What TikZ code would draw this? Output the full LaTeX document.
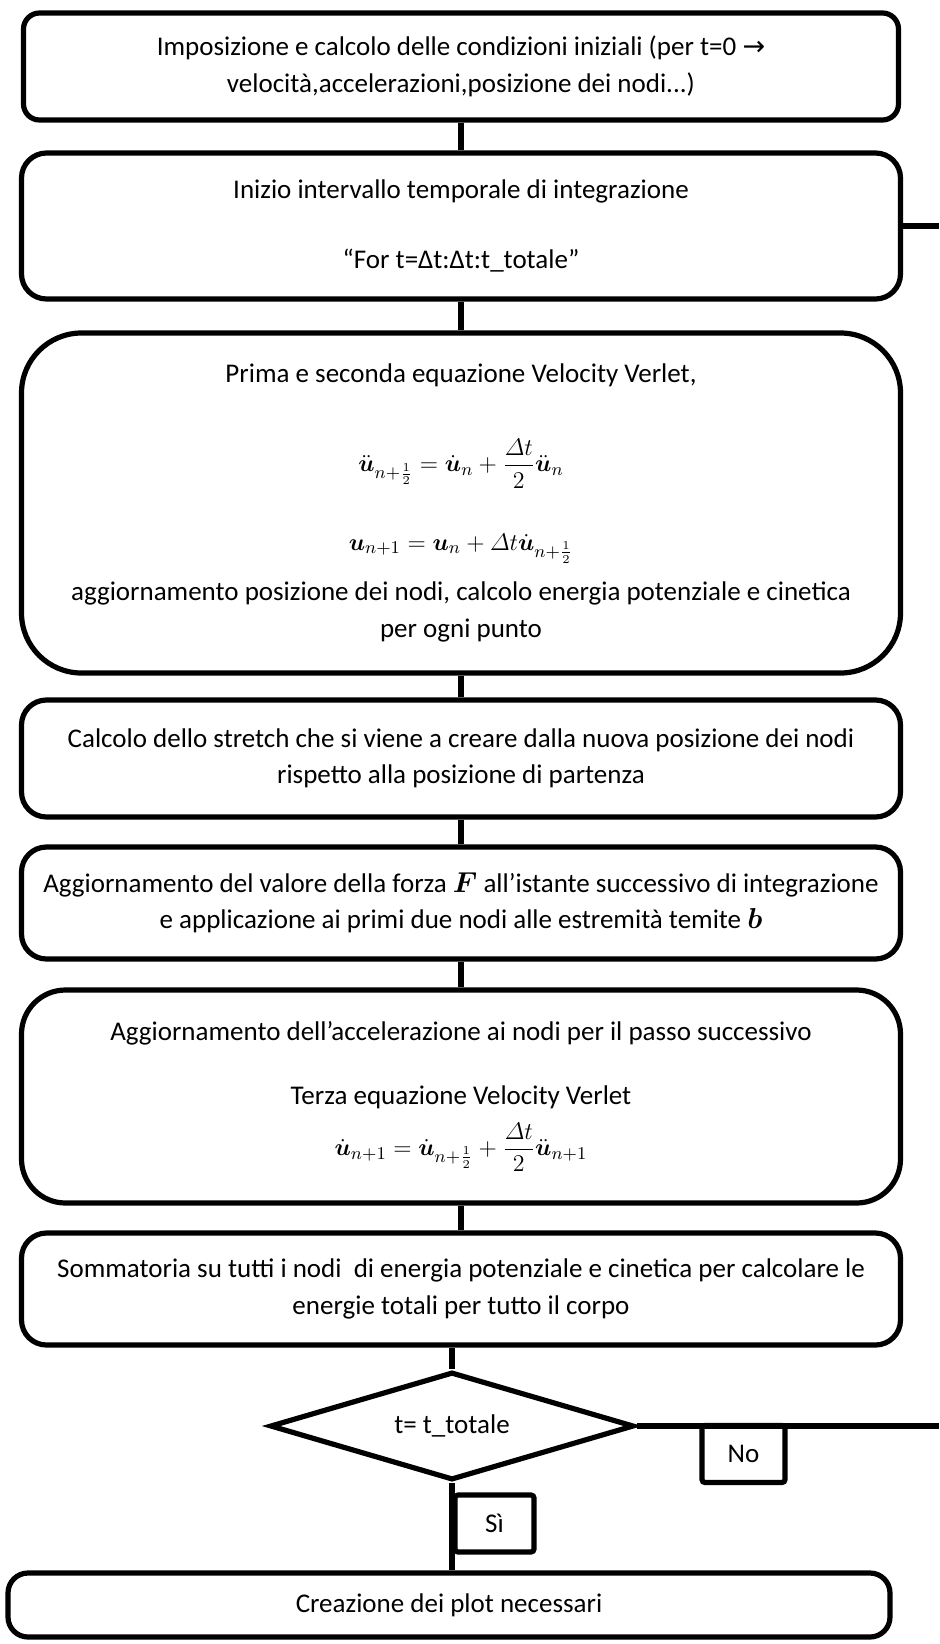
\documentclass[tikz,border=0pt]{standalone}
\usepackage{amsmath}
\usepackage{fontspec}
\setmainfont{Carlito}
\newfontfamily\arrowfont{DejaVu Sans}
\usetikzlibrary{shapes.geometric}
\newcommand{\eqsize}{\fontsize{12.5}{15}\selectfont}
\tikzset{box/.style={draw, line width=2.6pt, rounded corners=12.5pt, align=center,
    inner sep=0pt, minimum width=439.5pt, font=\fontsize{13.5}{18.2}\selectfont}}
\tikzset{tag/.style={draw, line width=2.6pt, rounded corners=1.5pt, inner sep=0pt,
    minimum height=28.5pt, font=\fontsize{13.5}{16}\selectfont}}
\tikzset{link/.style={line width=2.6pt}}

\begin{document}
\begin{tikzpicture}[x=0.5pt,y=-0.5pt]
	\useasboundingbox (0,0) rectangle (939,1644);
	% blocchi del ciclo
	\node[box, minimum width=437.5pt, minimum height=53.5pt, rounded corners=8pt] (init) at (461,66.5)
		{Imposizione e calcolo delle condizioni iniziali (per t=0 {\arrowfont →}\\velocità,accelerazioni,posizione dei nodi...)};
	\node[box, minimum height=73pt] (start) at (461,226)
		{Inizio intervallo temporale di integrazione\\[17pt]“For t=Δt:Δt:t\_totale”};
	\node[box, minimum height=170pt, rounded corners=30pt] (verlet) at (461,503)
		{Prima e seconda equazione Velocity Verlet,\\[25pt]
		{\eqsize$\displaystyle \ddot{\boldsymbol{u}}_{n+\frac{1}{2}} = \dot{\boldsymbol{u}}_n + \frac{\varDelta t}{2}\ddot{\boldsymbol{u}}_n$}\\[21pt]
		{\eqsize$\displaystyle \boldsymbol{u}_{n+1} = \boldsymbol{u}_n + \varDelta t\dot{\boldsymbol{u}}_{n+\frac{1}{2}}$}\\[7pt]
		aggiornamento posizione dei nodi, calcolo energia potenziale e cinetica\\per ogni punto};
	\node[box, minimum height=58.5pt] (stretch) at (461,758.5)
		{Calcolo dello stretch che si viene a creare dalla nuova posizione dei nodi\\rispetto alla posizione di partenza};
	\node[box, minimum height=56pt] (force) at (461,903)
		{Aggiornamento del valore della forza $\boldsymbol{F}$ all’istante successivo di integrazione\\e applicazione ai primi due nodi alle estremità temite $\boldsymbol{b}$};
	\node[box, minimum height=106.5pt, rounded corners=22pt] (accel) at (461,1096.5)
		{Aggiornamento dell’accelerazione ai nodi per il passo successivo\\[14pt]Terza equazione Velocity Verlet\\[6pt]
		{\eqsize$\displaystyle \dot{\boldsymbol{u}}_{n+1} = \dot{\boldsymbol{u}}_{n+\frac{1}{2}} + \frac{\varDelta t}{2}\ddot{\boldsymbol{u}}_{n+1}$}};
	\node[box, minimum height=56pt] (energy) at (461,1289)
		{Sommatoria su tutti i nodi\ \ di energia potenziale e cinetica per calcolare le\\energie totali per tutto il corpo};
	\node[diamond, draw, line width=2.6pt, aspect=3.37, minimum width=182pt, minimum height=54pt,
		inner sep=0pt, font=\fontsize{13.5}{16}\selectfont] (check) at (452,1426) {t= t\_totale};
	\node[box, minimum width=441pt, minimum height=32pt, rounded corners=10pt] (plots) at (449,1605)
		{Creazione dei plot necessari};
	% collegamenti
	\draw[link] (init.south) -- (start.north);
	\draw[link] (start.south) -- (verlet.north);
	\draw[link] (verlet.south) -- (stretch.north);
	\draw[link] (stretch.south) -- (force.north);
	\draw[link] (force.south) -- (accel.north);
	\draw[link] (accel.south) -- (energy.north);
	\draw[link] (check.north) -- (check.north |- energy.south);
	\draw[link] (check.south) -- (check.south |- plots.north);
	% ritorno (oltre il bordo)
	\coordinate (backA) at (939,226);
	\coordinate (backB) at (939,1426);
	\draw[link] (start.east) -- (backA);
	\draw[link] (check.east) -- (backB);
	\node[tag, minimum width=41.5pt] (no) at (743.5,1454) {No};
	\node[tag, minimum width=39.5pt] (yes) at (494.5,1523.5) {Sì};
\end{tikzpicture}
\end{document}
